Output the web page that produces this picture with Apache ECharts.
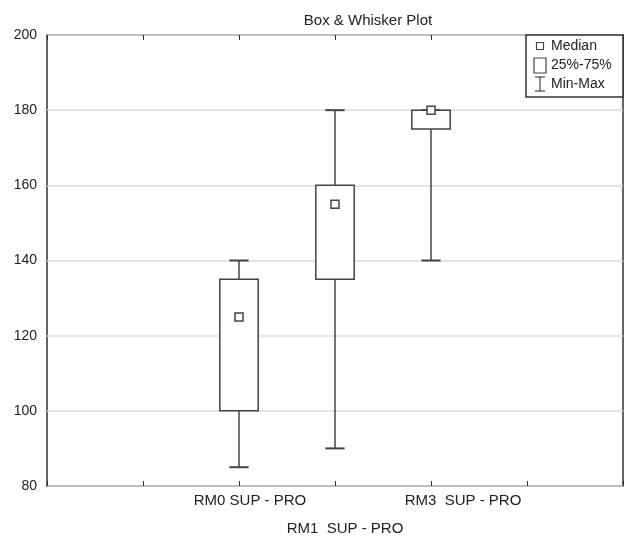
<!DOCTYPE html>
<html>
<head>
<meta charset="utf-8">
<script src="https://cdn.jsdelivr.net/npm/echarts@6/dist/echarts.min.js"></script>
<style>
  html, body { margin: 0; padding: 0; background: #fff; }
  #chart { width: 634px; height: 543px; }
</style>
</head>
<body>
<div id="chart"></div>
<script>
// categories sit on x = 2, 3, 4 of a 0..6 axis
const categories = ['RM0 SUP - PRO', 'RM1  SUP - PRO', 'RM3  SUP - PRO'];
const positions = [2, 3, 4];
const mins = [85, 90, 140];
const q1s = [100, 135, 175];
const medians = [125, 155, 180];
const q3s = [135, 160, 180];
const maxs = [140, 180, 180];
const yTicks = [80, 100, 120, 140, 160, 180, 200];

const ink = '#444';
const chart = echarts.init(document.getElementById('chart'));

const boxData = positions.map((x, i) => [x, mins[i], q1s[i], medians[i], q3s[i], maxs[i]]);

function renderBox(params, api) {
  const x = api.value(0);
  const pMin = api.coord([x, api.value(1)]);
  const pQ1 = api.coord([x, api.value(2)]);
  const pMed = api.coord([x, api.value(3)]);
  const pQ3 = api.coord([x, api.value(4)]);
  const pMax = api.coord([x, api.value(5)]);
  const half = api.size([0.2, 0])[0];
  const cap = api.size([0.1, 0])[0];
  const cx = pMed[0];
  const line = { stroke: ink, lineWidth: 1.5 };
  return {
    type: 'group',
    children: [
      { type: 'line', shape: { x1: cx, y1: pMax[1], x2: cx, y2: pQ3[1] }, style: line },
      { type: 'line', shape: { x1: cx, y1: pQ1[1], x2: cx, y2: pMin[1] }, style: line },
      { type: 'line', shape: { x1: cx - cap, y1: pMax[1], x2: cx + cap, y2: pMax[1] }, style: { stroke: ink, lineWidth: 2 } },
      { type: 'line', shape: { x1: cx - cap, y1: pMin[1], x2: cx + cap, y2: pMin[1] }, style: { stroke: ink, lineWidth: 2 } },
      { type: 'rect', shape: { x: cx - half, y: pQ3[1], width: half * 2, height: pQ1[1] - pQ3[1] },
        style: { fill: '#fff', stroke: ink, lineWidth: 1.5 } },
      { type: 'rect', shape: { x: cx - 4, y: pMed[1] - 4, width: 8, height: 8 },
        style: { fill: '#fff', stroke: ink, lineWidth: 1.5 } }
    ]
  };
}

const labelFont = { fontFamily: 'Liberation Sans', fontSize: 14, color: '#222' };
const xFont = { fontFamily: 'Liberation Sans', fontSize: 15, color: '#222', lineHeight: 28 };

const option = {
  animation: false,
  title: {
    text: 'Box & Whisker Plot',
    left: 363, top: 8, textAlign: 'center',
    textStyle: { fontFamily: 'Liberation Sans', fontSize: 15, fontWeight: 'normal', color: '#222' }
  },
  grid: { left: 47, right: 11, top: 35, bottom: 55, show: true, borderColor: '#333', borderWidth: 1.5, backgroundColor: 'transparent' },
  xAxis: [{
    type: 'value', min: 0, max: 6, interval: 1,
    axisLine: { show: false },
    axisTick: { show: true, inside: true, length: 5, lineStyle: { color: '#333' } },
    splitLine: { show: false },
    axisLabel: Object.assign({}, xFont, {
      margin: 1,
      formatter: v => {
        const i = positions.indexOf(v);
        if (i < 0) return '';
        const txt = '{c' + i + '|' + categories[i] + '}';
        return i === 1 ? '\n' + txt : txt;
      },
      rich: {
        c0: Object.assign({}, xFont, { padding: [0, 0, 0, 22] }),
        c1: Object.assign({}, xFont, { padding: [0, 0, 0, 20] }),
        c2: Object.assign({}, xFont, { padding: [0, 0, 0, 64] })
      }
    })
  }, {
    type: 'value', min: 0, max: 6, interval: 1, position: 'top',
    axisLine: { show: false },
    axisTick: { show: true, inside: true, length: 5, lineStyle: { color: '#333' } },
    splitLine: { show: false },
    axisLabel: { show: false }
  }],
  yAxis: {
    type: 'value', min: yTicks[0], max: yTicks[yTicks.length - 1], interval: 20,
    axisLine: { show: false },
    axisTick: { show: false },
    splitLine: { show: true, lineStyle: { color: '#ddd', width: 1.5 } },
    axisLabel: Object.assign({}, labelFont, { margin: 10 })
  },
  graphic: [
    { type: 'rect', shape: { x: 526, y: 35, width: 97, height: 62 }, style: { fill: '#fff', stroke: '#333', lineWidth: 1.5 }, z: 10 },
    { type: 'rect', shape: { x: 536.5, y: 42.5, width: 7, height: 7 }, style: { fill: '#fff', stroke: ink, lineWidth: 1.2 }, z: 11 },
    { type: 'rect', shape: { x: 534, y: 58, width: 12, height: 15 }, style: { fill: '#fff', stroke: ink, lineWidth: 1.2 }, z: 11 },
    { type: 'line', shape: { x1: 540, y1: 77, x2: 540, y2: 91 }, style: { stroke: ink, lineWidth: 1.2 }, z: 11 },
    { type: 'line', shape: { x1: 535, y1: 77, x2: 545, y2: 77 }, style: { stroke: ink, lineWidth: 1.2 }, z: 11 },
    { type: 'line', shape: { x1: 535, y1: 91, x2: 545, y2: 91 }, style: { stroke: ink, lineWidth: 1.2 }, z: 11 },
    { type: 'text', x: 551, y: 46, style: { text: 'Median', fill: '#222', font: '14px "Liberation Sans"', verticalAlign: 'middle' }, z: 11 },
    { type: 'text', x: 551, y: 65, style: { text: '25%-75%', fill: '#222', font: '14px "Liberation Sans"', verticalAlign: 'middle' }, z: 11 },
    { type: 'text', x: 551, y: 84, style: { text: 'Min-Max', fill: '#222', font: '14px "Liberation Sans"', verticalAlign: 'middle' }, z: 11 }
  ],
  series: [{
    type: 'custom',
    renderItem: renderBox,
    encode: { x: 0, y: [1, 2, 3, 4, 5] },
    data: boxData
  }]
};

chart.setOption(option);
</script>
</body>
</html>
